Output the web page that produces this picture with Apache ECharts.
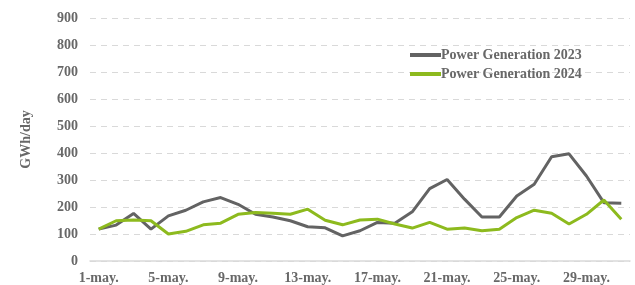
<!DOCTYPE html>
<html>
<head>
<meta charset="utf-8">
<script src="https://cdn.jsdelivr.net/npm/echarts@6/dist/echarts.min.js"></script>
<style>
  html, body { margin: 0; padding: 0; background: #fff; }
  #chart { width: 635px; height: 285px; }
</style>
</head>
<body>
<div id="chart"></div>
<script>
// days of May
const days = [];
for (let d = 1; d <= 31; d++) days.push(d + '-may.');

const gen2023 = [118, 133, 176, 118, 167, 188, 219, 235, 210, 173, 163, 149, 127, 123, 93, 112,
  143, 140, 182, 268, 302, 229, 163, 163, 241, 284, 386, 397, 315, 216, 214];
const gen2024 = [118, 149, 152, 149, 100, 110, 134, 140, 173, 180, 177, 173, 192, 151, 134, 152,
  155, 137, 122, 143, 118, 122, 112, 118, 161, 188, 177, 137, 173, 226, 155];

const chart = echarts.init(document.getElementById('chart'));

const font = 'Liberation Serif';
const txt = '#686868';

chart.setOption({
  animation: false,
  grid: { left: 90, right: 5, top: 18, bottom: 23 },
  legend: {
    orient: 'vertical',
    left: 405,
    top: 43,
    itemWidth: 31,
    itemHeight: 4,
    itemGap: 5,
    icon: 'rect',
    textStyle: { fontFamily: font, fontWeight: 'bold', fontSize: 14, color: txt, padding: [0, 0, 0, -5] },
    data: ['Power Generation 2023', 'Power Generation 2024']
  },
  xAxis: {
    type: 'category',
    data: days,
    boundaryGap: true,
    axisLine: { lineStyle: { color: '#d9d9d9', width: 1.5 } },
    axisTick: { show: false },
    axisLabel: {
      interval: 3,
      margin: 10,
      fontFamily: font,
      fontWeight: 'bold',
      fontSize: 14,
      color: txt
    }
  },
  yAxis: {
    type: 'value',
    min: 0,
    max: 900,
    interval: 100,
    name: 'GWh/day',
    nameLocation: 'middle',
    nameGap: 57,
    nameTextStyle: { fontFamily: font, fontWeight: 'bold', fontSize: 14, color: txt },
    axisLine: { show: false },
    axisTick: { show: false },
    axisLabel: { fontFamily: font, fontWeight: 'bold', fontSize: 14, color: txt, margin: 12 },
    splitLine: { lineStyle: { color: '#d9d9d9', type: [6, 5], width: 1 } }
  },
  series: [
    {
      name: 'Power Generation 2023',
      type: 'line',
      data: gen2023,
      symbol: 'none',
      lineStyle: { color: '#636363', width: 3 },
      itemStyle: { color: '#636363' }
    },
    {
      name: 'Power Generation 2024',
      type: 'line',
      data: gen2024,
      symbol: 'none',
      lineStyle: { color: '#8dba1e', width: 3 },
      itemStyle: { color: '#8dba1e' }
    }
  ]
});
</script>
</body>
</html>
